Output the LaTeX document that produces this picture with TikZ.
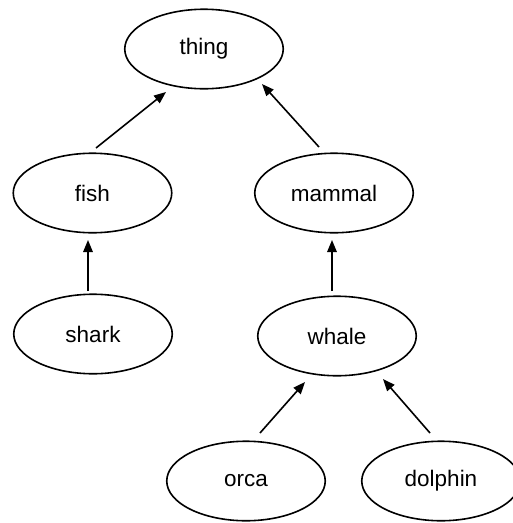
\documentclass[tikz,border=0pt]{standalone}
\usepackage{fontspec}
\setmainfont{Liberation Sans}
\usetikzlibrary{arrows.meta,shapes.geometric,calc}
\begin{document}
\begin{tikzpicture}[x=1pt,y=1pt,
  concept/.style={ellipse,draw,line width=1.6pt,minimum width=158.5pt,minimum height=79.5pt,inner sep=0pt,font=\fontsize{22.5}{26}\selectfont},
  arr/.style={line width=1.6pt,-{Triangle[length=12pt,width=9.5pt]}}]
\useasboundingbox (0,0) rectangle (513,-523);
\node[concept] (thing) at (204,-49) {thing};
\node[concept] (fish) at (92.5,-193) {fish};
\node[concept] (mammal) at (334,-193) {mammal};
\node[concept] (shark) at (93,-334) {shark};
\node[concept] (whale) at (337,-336) {whale};
\node[concept] (orca) at (246,-481) {orca};
\node[concept] (dolphin) at (441,-481) {dolphin};
\draw[arr] ($(fish)+(3.5,45)$) -- ($(thing)+(-38,-43)$);
\draw[arr] ($(mammal)+(-15,46)$) -- ($(thing)+(58,-35)$);
\draw[arr] ($(shark)+(-5,43)$) -- ($(fish)+(-4.5,-47)$);
\draw[arr] ($(whale)+(-5,45)$) -- ($(mammal)+(-2,-47)$);
\draw[arr] ($(orca)+(14,48)$) -- ($(whale)+(-32,-46)$);
\draw[arr] ($(dolphin)+(-11,48)$) -- ($(whale)+(46,-43)$);
\end{tikzpicture}
\end{document}
